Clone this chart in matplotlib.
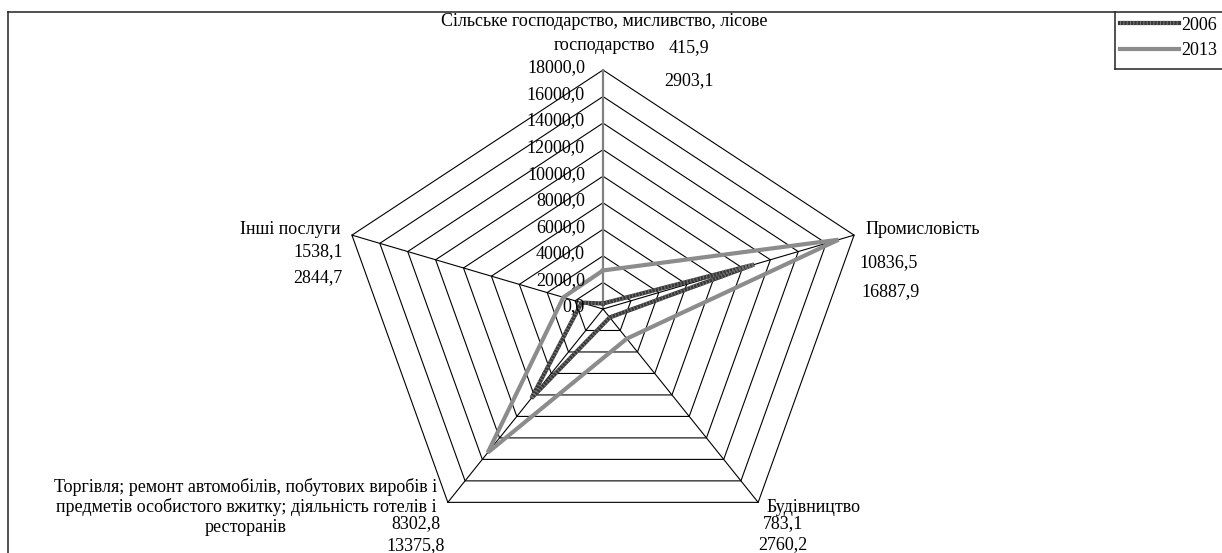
import numpy as np
import matplotlib
matplotlib.use("Agg")
import matplotlib.pyplot as plt
from matplotlib.lines import Line2D

plt.rcParams['font.family'] = ['Liberation Serif', 'DejaVu Serif']

# sectors (clockwise from the top) and values, mln UAH
categories = ["Сільське господарство, мисливство, лісове\nгосподарство",
              "Промисловість",
              "Будівництво",
              "Торгівля; ремонт автомобілів, побутових виробів і\nпредметів особистого вжитку; діяльність готелів і\nресторанів",
              "Інші послуги"]
years = ["2006", "2013"]
vals_2006 = [415.9, 10836.5, 783.1, 8302.8, 1538.1]
vals_2013 = [2903.1, 16887.9, 2760.2, 13375.8, 2844.7]
ticks = [0, 2000, 4000, 6000, 8000, 10000, 12000, 14000, 16000, 18000]
rmax = 18000
FS = 13

W, H = 1222, 553
fig = plt.figure(figsize=(W / 100, H / 100), dpi=100)
ax = fig.add_axes([0, 0, 1, 1])
ax.axis('off')

# centre of the web and radius of the outer ring, in pixels
cx, cy = 603, 309
rx, ry = 264, 239
sx, sy = rx / rmax, ry / rmax
ax.set_xlim(-cx / sx, (W - cx) / sx)
ax.set_ylim(-(H - cy) / sy, cy / sy)

n = len(categories)
ang = np.pi / 2 - 2 * np.pi * np.arange(n) / n


def xy(values):
    v = np.asarray(values, dtype=float)
    x = v * np.cos(ang)
    y = v * np.sin(ang)
    return np.append(x, x[0]), np.append(y, y[0])


# rings
for t in ticks[1:]:
    x, y = xy([t] * n)
    ax.plot(x, y, color='black', lw=0.8, zorder=1)

# spokes
for i in range(n):
    ex, ey = rmax * np.cos(ang[i]), rmax * np.sin(ang[i])
    if i == 0:
        ax.plot([0, ex], [0, ey], color='#808080', lw=1.6, zorder=2)
    else:
        ax.plot([0, ex], [0, ey], color='black', lw=0.8, zorder=2)

# tick labels along the top spoke
for t in ticks:
    ax.annotate(f"{t:.1f}".replace('.', ','), (0, t), xytext=(-13, 1.5),
                textcoords='offset points', ha='right', va='center',
                fontsize=FS, zorder=5)

# series
x, y = xy(vals_2013)
ax.plot(x, y, color='#8c8c8c', lw=3, solid_joinstyle='miter', zorder=3)
x, y = xy(vals_2006)
ax.plot(x, y, color='#383838', lw=3, solid_joinstyle='miter', zorder=4)
ax.plot(x, y, color='#767676', lw=3, dashes=[0.25, 0.55], zorder=4)


def ftext(px, py, s, **kw):
    fig.text(px / W, 1 - py / H, s, fontsize=FS, **kw)


def fmt(v):
    return f"{v:.1f}".replace('.', ',')


# category names (wrapped names drawn line by line)
top = categories[0].split('\n')
ftext(604, 22, top[0], ha='center', va='center')
ftext(604, 45, top[1], ha='center', va='center')
ftext(866, 230, categories[1], ha='left', va='center')
ftext(767, 508, categories[2], ha='left', va='center')
for k, line in enumerate(categories[3].split('\n')):
    ftext(246, 487 + 20.5 * k, line, ha='center', va='center')
ftext(340, 230, categories[4], ha='right', va='center')

# value labels: 2006 first, 2013 below
ftext(689, 48, fmt(vals_2006[0]), ha='center', va='center')
ftext(689, 81, fmt(vals_2013[0]), ha='center', va='center')
ftext(859, 263, fmt(vals_2006[1]), ha='left', va='center')
ftext(861, 292, fmt(vals_2013[1]), ha='left', va='center')
ftext(763, 524, fmt(vals_2006[2]), ha='left', va='center')
ftext(758, 545, fmt(vals_2013[2]), ha='left', va='center')
ftext(416, 524, fmt(vals_2006[3]), ha='center', va='center')
ftext(416, 546, fmt(vals_2013[3]), ha='center', va='center')
ftext(343, 252, fmt(vals_2006[4]), ha='right', va='center')
ftext(342, 278, fmt(vals_2013[4]), ha='right', va='center')

# outer chart frame and legend box
def fline(xs, ys, **kw):
    fig.add_artist(Line2D([v / W for v in xs], [1 - v / H for v in ys],
                          color='#222222', lw=1.1, **kw))


fline([8, 8], [12, H + 2])
fline([8, W + 2], [12, 12])
fline([1115, 1115], [12, 69])
fline([1115, W + 2], [69, 69])

# legend
h06 = (Line2D([], [], color='#383838', lw=3),
       Line2D([], [], color='#767676', lw=3, dashes=[0.25, 0.55]))
h13 = Line2D([], [], color='#8c8c8c', lw=3)
leg = ax.legend([h06, h13], years, loc='upper left',
                bbox_to_anchor=(1118 / W, 1 - 15 / H), bbox_transform=fig.transFigure,
                frameon=False, fontsize=FS, handlelength=3.3, handletextpad=0.1,
                labelspacing=0.45, borderaxespad=0, borderpad=0.1)

fig.savefig("out.png", dpi=100)
